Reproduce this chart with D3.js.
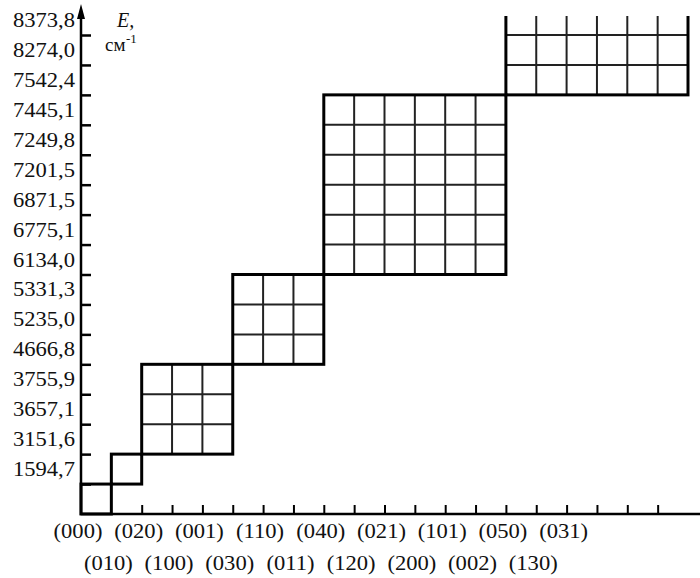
<!DOCTYPE html>
<html>
<head>
<meta charset="utf-8">
<script src="https://cdn.jsdelivr.net/npm/d3@7"></script>
<style>
  body { margin: 0; background: #fff; }
  svg { display: block; }
  text { font-family: "Liberation Serif", "Times New Roman", serif; fill: #111; }
</style>
</head>
<body>
<svg id="chart" width="700" height="578"></svg>
<script>
// vibrational states, in order of rising energy
var states = ["(000)", "(010)", "(020)", "(100)", "(001)", "(030)", "(110)", "(011)",
  "(040)", "(120)", "(021)", "(200)", "(101)", "(002)", "(050)", "(130)", "(031)"];
// energy levels, cm-1 (same order as states)
var energies = [0, 1594.7, 3151.6, 3657.1, 3755.9, 4666.8, 5235.0, 5331.3, 6134.0,
  6775.1, 6871.5, 7201.5, 7249.8, 7445.1, 7542.4, 8274.0, 8373.8];
// size of each polyad block on the diagonal
var polyadSizes = [1, 1, 3, 3, 6, 6];

var svg = d3.select("#chart");
var nCols = d3.sum(polyadSizes);

var x = d3.scaleLinear().domain([0, nCols]).range([81, 688]);
var y = d3.scaleLinear().domain([0, energies.length - 1]).range([514, 35]);

var fmt = function(v) { return d3.format(".1f")(v).replace(".", ","); };
var stretch = 1.13; // the scanned type is a bit wide

// clip for the top block, which runs off the figure
svg.append("defs").append("clipPath").attr("id", "clip")
  .append("rect").attr("x", 0).attr("y", 16).attr("width", 700).attr("height", 578);

var blocks = [];
var start = 0;
polyadSizes.forEach(function(n) {
  blocks.push({ s: start, n: n });
  start += n;
});

var grid = svg.append("g").attr("clip-path", "url(#clip)");

blocks.forEach(function(b) {
  var g = grid.append("g");
  // inner lines
  d3.range(1, b.n).forEach(function(k) {
    g.append("line")
      .attr("x1", x(b.s + k)).attr("x2", x(b.s + k))
      .attr("y1", y(b.s)).attr("y2", y(b.s + b.n))
      .attr("stroke", "#222").attr("stroke-width", 2);
    g.append("line")
      .attr("x1", x(b.s)).attr("x2", x(b.s + b.n))
      .attr("y1", y(b.s + k)).attr("y2", y(b.s + k))
      .attr("stroke", "#222").attr("stroke-width", 2);
  });
  // block border
  g.append("rect")
    .attr("x", x(b.s)).attr("y", y(b.s + b.n))
    .attr("width", x(b.s + b.n) - x(b.s))
    .attr("height", y(b.s) - y(b.s + b.n))
    .attr("fill", "none").attr("stroke", "#000").attr("stroke-width", 3);
});

// y ticks (inward)
var yAxis = svg.append("g")
  .attr("transform", "translate(" + x(0) + ",0)")
  .call(d3.axisRight(y).tickValues(d3.range(1, energies.length)).tickSize(10).tickFormat(""));
yAxis.select(".domain").remove();
yAxis.selectAll("line").attr("stroke", "#000").attr("stroke-width", 2.5);

// x ticks (inward)
var xAxis = svg.append("g")
  .attr("transform", "translate(0," + y(0) + ")")
  .call(d3.axisTop(x).tickValues(d3.range(2, nCols)).tickSize(9).tickFormat(""));
xAxis.select(".domain").remove();
xAxis.selectAll("line").attr("stroke", "#000").attr("stroke-width", 2);

// axis lines
svg.append("line")
  .attr("x1", x(0)).attr("x2", 700)
  .attr("y1", y(0)).attr("y2", y(0))
  .attr("stroke", "#000").attr("stroke-width", 2.5);
svg.append("line")
  .attr("x1", x(0)).attr("x2", x(0))
  .attr("y1", y(0) + 1).attr("y2", 14)
  .attr("stroke", "#000").attr("stroke-width", 2.5);
svg.append("path")
  .attr("d", "M" + (x(0) - 4) + ",19 L" + x(0) + ",4 L" + (x(0) + 4) + ",19 Z")
  .attr("fill", "#000");

// energy labels, centred in each row
svg.append("g").selectAll("text")
  .data(energies.slice(1))
  .join("text")
  .attr("transform", function(d, i) {
    return "translate(75," + y(i + 1.5) + ") scale(" + stretch + ",1)";
  })
  .attr("text-anchor", "end")
  .attr("dy", "0.35em")
  .style("font-size", "20px")
  .text(fmt);

// state labels, staggered in two rows
svg.append("g").selectAll("text")
  .data(states)
  .join("text")
  .attr("transform", function(d, i) {
    var ty = i % 2 === 0 ? 538 : 570;
    return "translate(" + (x(i) - 3) + "," + ty + ") scale(" + stretch + ",1)";
  })
  .attr("text-anchor", "middle")
  .style("font-size", "20px")
  .text(function(d) { return d; });

// axis title
svg.append("text")
  .attr("x", 117).attr("y", 27)
  .style("font-size", "20px").style("font-style", "italic")
  .text("E,");
svg.append("text")
  .attr("x", 105).attr("y", 51)
  .style("font-size", "19px")
  .text("см");
svg.append("text")
  .attr("x", 126).attr("y", 43)
  .style("font-size", "13px")
  .text("-1");
</script>
</body>
</html>
